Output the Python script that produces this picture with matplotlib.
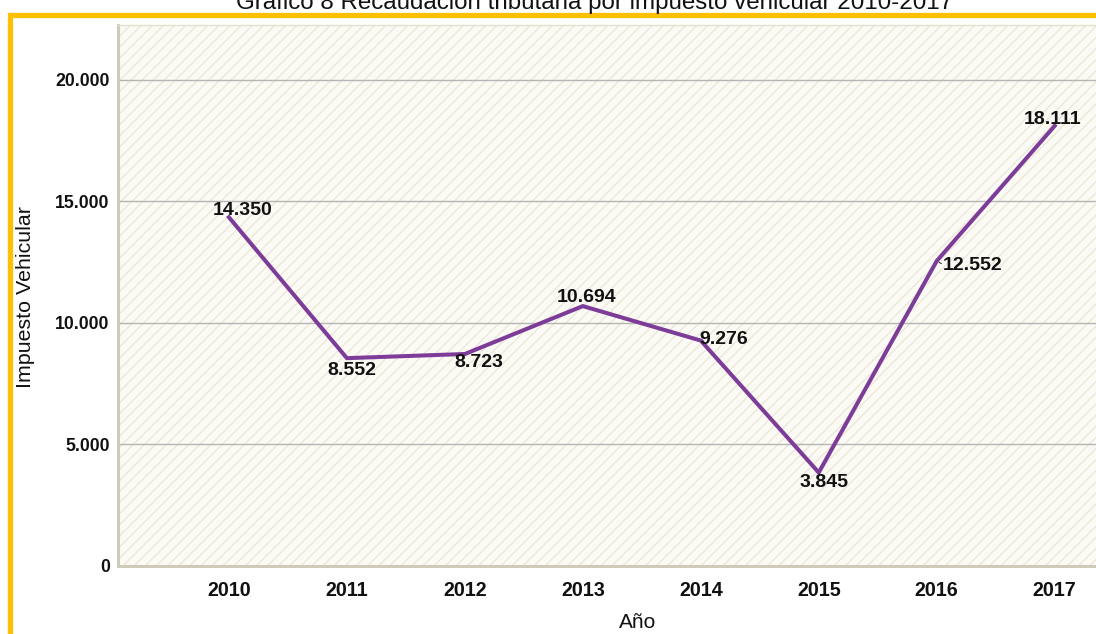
import matplotlib
matplotlib.use("Agg")
import matplotlib.pyplot as plt
from matplotlib.patches import Rectangle

plt.rcParams['font.family'] = ['Liberation Sans', 'DejaVu Sans']
plt.rcParams['hatch.linewidth'] = 1.0

# data
years = [2010, 2011, 2012, 2013, 2014, 2015, 2016, 2017]
values = [14350, 8552, 8723, 10694, 9276, 3845, 12552, 18111]
labels = ["14.350", "8.552", "8.723", "10.694", "9.276", "3.845", "12.552", "18.111"]
yticks = [0, 5000, 10000, 15000, 20000]
ytick_labels = ["0", "5.000", "10.000", "15.000", "20.000"]

# label offsets in pixels (dx, dy) and alignment
offsets = [(14, 7, 'center'), (5, -12, 'center'), (14, -9, 'center'), (4, 9, 'center'),
           (-1, 1, 'left'), (5, -10, 'center'), (6, -5, 'left'), (-2, 6, 'center')]

W, H = 1096, 634
fig = plt.figure(figsize=(W / 100, H / 100), dpi=100)

# orange frame, cropped by the figure edges
fig.patches.append(Rectangle((10 / W, -0.2), 1.2, 1 - 15 / H + 0.2, transform=fig.transFigure,
                             fill=False, edgecolor='#FFC000', linewidth=3.8, zorder=0))

ax = fig.add_axes([118 / W, 1 - 566 / H, 1 - 118 / W, (566 - 25) / H])
ax.set_facecolor('#FBFAF4')
ax.add_patch(Rectangle((0, 0), 1, 1, transform=ax.transAxes, facecolor='#FBFAF4',
                       edgecolor='#ECE8D9', hatch='///', linewidth=0, zorder=0))

ax.set_xlim(2009.06, 2017.35)
ax.set_ylim(0, 22260)

ax.grid(axis='y', color='#B5B5B5', linewidth=1.0, zorder=1)
ax.set_axisbelow(True)

ax.plot(years, values, color='#7D3C98', linewidth=2.9, solid_joinstyle='miter', zorder=3)

for x, y, lab, (dx, dy, ha) in zip(years, values, labels, offsets):
    ax.annotate(lab, (x, y), xytext=(dx, dy), textcoords='offset pixels', ha=ha, va='center',
                fontsize=14, fontweight='bold', color='#111111', zorder=4)
# small leader for 2016 label
ax.annotate("", (years[6], values[6]), xytext=(7, -4), textcoords='offset pixels',
            arrowprops=dict(arrowstyle='-', color='#333333', lw=0.8), zorder=4)

ax.set_xticks(years)
ax.set_xticklabels([str(y) for y in years], fontsize=14.2, fontweight='bold')
ax.set_yticks(yticks)
ax.set_yticklabels(ytick_labels, fontsize=12.7, fontweight='bold')
ax.tick_params(axis='both', length=0, colors='#111111')
ax.tick_params(axis='y', pad=6)
ax.tick_params(axis='x', pad=11)

for side in ['left', 'bottom']:
    ax.spines[side].set_color('#CFCBBB')
    ax.spines[side].set_linewidth(2.2)
ax.spines['top'].set_color('#E4E0D0')
ax.spines['top'].set_linewidth(1.0)
ax.spines['right'].set_visible(False)

fig.text(26 / W, 1 - 297 / H, "Impuesto Vehicular", rotation=90, ha='center', va='center',
         fontsize=15.4, color='#111111')
fig.text(638 / W, 1 - 623 / H, "Año", ha='center', va='center', fontsize=15, color='#111111')
fig.text(595 / W, 1 - 3 / H, "Gráfico 8 Recaudación tributaria por impuesto vehicular 2010-2017",
         ha='center', va='center', fontsize=17.4, color='#111111')

fig.savefig("out.png", dpi=100)
